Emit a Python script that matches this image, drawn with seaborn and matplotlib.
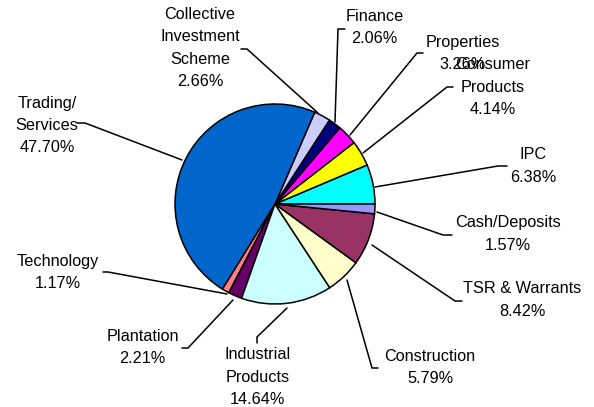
"""Sector allocation pie chart with leader-line labels."""

import matplotlib

matplotlib.use("Agg")
import matplotlib.pyplot as plt
import seaborn as sns

# Sectors in drawing order (counter-clockwise from 3 o'clock)
sectors = [
    "IPC",
    "Consumer\nProducts",
    "Properties",
    "Finance",
    "Collective\nInvestment\nScheme",
    "Trading/\nServices",
    "Technology",
    "Plantation",
    "Industrial\nProducts",
    "Construction",
    "TSR & Warrants",
    "Cash/Deposits",
]
shares = [6.38, 4.14, 3.26, 2.06, 2.66, 47.70, 1.17, 2.21, 14.64, 5.79, 8.42, 1.57]
colors = [
    "#00FFFF", "#FFFF00", "#FF00FF", "#000080", "#CCCCFF", "#0066CC",
    "#FF8080", "#660066", "#CCFFFF", "#FFFFCC", "#993366", "#9999FF",
]

# Layout in pixels (origin top-left): label centre, leader start, elbow, tick end
label_xy = [
    (533.5, 166), (493, 87), (463, 53.5), (374.5, 27.5), (200, 48), (47, 125.5),
    (57.5, 272.5), (142.5, 347.5), (257.5, 377), (430, 367.5), (522, 300), (508, 234),
]
leader_start = [
    (375, 187), (363, 153), (350, 135), (335, 122), (318, 113), (182, 160),
    (227, 294), (233, 300), (287, 308), (347, 280), (372, 245), (377, 212),
]
leader_elbow = [
    (498, 166), (447, 87), (417, 53), (338, 29), (247, 49), (85, 123),
    (108, 272), (188, 348), (257, 337), (372, 368), (455, 301), (443, 235),
]
leader_tick = [
    (507, 166), (453, 87), (423, 53), (345, 29), (241, 49), (77, 123),
    (103, 272), (182, 348), (257, 343), (378, 368), (462, 301), (452, 235),
]

W, H = 594, 407
PIE_CENTER = (275, 204)
PIE_RADIUS = 100

sns.set_theme(style="white")
plt.rcParams["font.family"] = ["Liberation Sans", "DejaVu Sans"]

fig = plt.figure(figsize=(W / 100, H / 100), dpi=100)
ax = fig.add_axes([0, 0, 1, 1])

ax.pie(
    shares,
    colors=colors,
    startangle=0,
    counterclock=True,
    center=(PIE_CENTER[0], H - PIE_CENTER[1]),
    radius=PIE_RADIUS,
    wedgeprops=dict(edgecolor="black", linewidth=1.1),
)

for name, share, (cx, cy), s, e, t in zip(
    sectors, shares, label_xy, leader_start, leader_elbow, leader_tick
):
    ax.plot(
        [s[0], e[0], t[0]],
        [H - s[1], H - e[1], H - t[1]],
        color="black",
        lw=1.1,
        solid_joinstyle="miter",
    )
    ax.text(
        cx,
        H - cy,
        f"{name}\n{share:.2f}%",
        ha="center",
        va="center",
        multialignment="center",
        fontsize=11.7,
        linespacing=1.6,
        color="black",
    )

ax.set_xlim(0, W)
ax.set_ylim(0, H)
ax.set_aspect("equal")
ax.axis("off")

fig.savefig("out.png", dpi=100, facecolor="white")
